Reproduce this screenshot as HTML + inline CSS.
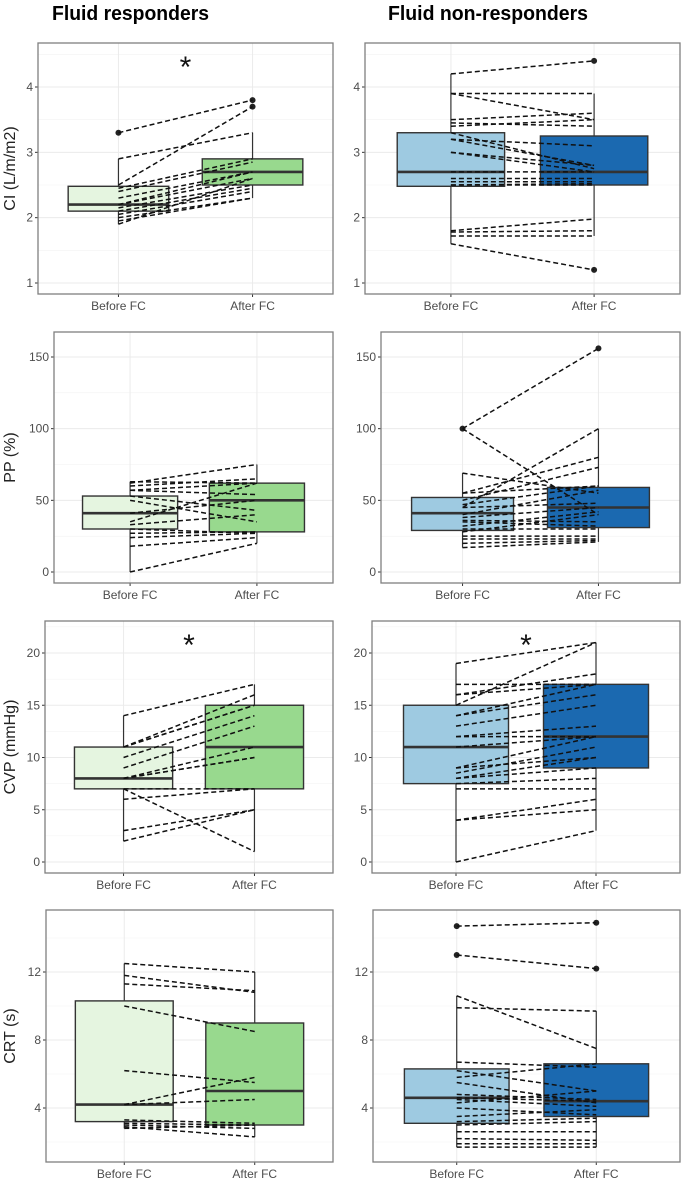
<!DOCTYPE html>
<html><head><meta charset="utf-8"><style>
body{margin:0;background:#fff}
svg{display:block;font-family:"Liberation Sans",sans-serif}
</style></head><body>
<svg id="chart" width="682" height="1181" viewBox="0 0 682 1181">
<text x="52" y="20" font-size="20" font-weight="bold" textLength="157" lengthAdjust="spacingAndGlyphs">Fluid responders</text>
<text x="388" y="20" font-size="20" font-weight="bold" textLength="200" lengthAdjust="spacingAndGlyphs">Fluid non-responders</text>
</svg>
<script>
const categories = ["Before FC","After FC"];
const yTitles = ["CI (L/m/m2)","PP (%)","CVP (mmHg)","CRT (s)"];
const ticksRow1 = [1,2,3,4];
const ticksRow2 = [0,50,100,150];
const ticksRow3 = [0,5,10,15,20];
const ticksRow4 = [4,8,12];
// boxes: [whiskerLo, q1, median, q3, whiskerHi]
const ciRespBefore = [1.9,2.1,2.2,2.48,2.9], ciRespAfter = [2.3,2.5,2.7,2.9,3.3];
const ciRespOut = [[0,3.3],[1,3.7],[1,3.8]];
const ciRespPairs = [[3.3,3.8],[2.5,3.7],[2.9,3.3],[2.45,2.9],[2.4,2.85],[2.3,2.7],[2.2,2.7],[2.2,2.6],[2.15,2.5],[2.1,2.45],[2.05,2.4],[2.0,2.3],[1.95,2.3],[1.9,2.6]];
const ciNonBefore = [1.6,2.48,2.7,3.3,4.2], ciNonAfter = [1.72,2.5,2.7,3.25,3.9];
const ciNonOut = [[1,4.4],[1,1.2]];
const ciNonPairs = [[4.2,4.4],[3.9,3.9],[3.9,3.5],[3.5,3.6],[3.45,3.4],[3.4,3.5],[3.3,2.75],[3.2,3.1],[3.0,2.8],[3.0,2.7],[2.7,2.7],[2.6,2.6],[2.55,2.55],[2.5,2.5],[2.5,2.52],[1.8,1.98],[1.78,1.8],[1.72,1.72],[1.6,1.2],[3.2,2.8]];
const ppRespBefore = [0,30,41,53,63], ppRespAfter = [20,28,50,62,75];
const ppRespOut = [];
const ppRespPairs = [[63,62],[62,75],[57,62],[57,54],[53,43],[50,35],[41,50],[35,62],[33,40],[30,27],[27,28],[24,27],[18,24],[0,20],[60,65]];
const ppNonBefore = [17,29,41,52,69], ppNonAfter = [21,31,45,59,100];
const ppNonOut = [[0,100],[1,156]];
const ppNonPairs = [[100,156],[100,40],[69,55],[45,100],[55,80],[50,73],[55,60],[40,57],[45,48],[38,45],[36,35],[35,32],[30,30],[28,40],[25,25],[23,23],[20,22],[17,21],[47,60],[32,42]];
const cvpRespBefore = [2,7,8,11,14], cvpRespAfter = [1,7,11,15,17];
const cvpRespOut = [];
const cvpRespPairs = [[14,17],[11,16],[11,15],[10,14],[9,13],[8,11],[8,10],[7,1],[7,7],[6,7],[3,5],[2,5],[11,15],[8,10]];
const cvpNonBefore = [0,7.5,11,15,19], cvpNonAfter = [3,9,12,17,21];
const cvpNonOut = [];
const cvpNonPairs = [[19,21],[17,17],[16,17],[16,18],[15,21],[14,16],[14,17],[13,15],[12,12],[12,13],[11,12],[9,10],[9,12],[8.5,11],[8,9],[8,10],[7.5,8],[7,7],[4,6],[4,5],[0,3]];
const crtRespBefore = [2.8,3.2,4.2,10.3,12.5], crtRespAfter = [2.3,3.0,5.0,9.0,12];
const crtRespOut = [];
const crtRespPairs = [[12.5,12],[11.8,10.8],[11.3,10.9],[10,8.5],[6.2,5.5],[4.2,5.8],[4.2,4.5],[3.3,3.1],[3.1,3.0],[2.9,2.3],[2.8,3.0],[3.0,2.8]];
const crtNonBefore = [1.7,3.1,4.6,6.3,10.6], crtNonAfter = [1.7,3.5,4.4,6.6,9.7];
const crtNonOut = [[0,14.7],[0,13],[1,14.9],[1,12.2]];
const crtNonPairs = [[14.7,14.9],[13,12.2],[10.6,7.5],[9.9,9.7],[6.7,6.4],[6.2,5.0],[5.5,4.3],[5.8,6.6],[4.8,4.5],[4.6,4.4],[4.5,4.1],[4.0,3.6],[3.5,3.9],[3.2,3.4],[3.0,3.2],[2.6,2.6],[2.2,2.1],[1.9,1.9],[1.7,1.7],[4.3,5.0]];

const NS="http://www.w3.org/2000/svg";
const svg=document.getElementById('chart');
function mk(tag,attrs,parent){const e=document.createElementNS(NS,tag);for(const k in attrs)e.setAttribute(k,attrs[k]);(parent||svg).appendChild(e);return e;}

const rows=[
 {top:43,bottom:294,v0:1,p0:283,v1:4,p1:87,ticks:ticksRow1,minor:0.5,lx:[38,333],rx:[365,680]},
 {top:332,bottom:583,v0:0,p0:572,v1:150,p1:357,ticks:ticksRow2,minor:25,lx:[54,333],rx:[381,680]},
 {top:621,bottom:873,v0:0,p0:862,v1:20,p1:653,ticks:ticksRow3,minor:2.5,lx:[45,333],rx:[372,680]},
 {top:910,bottom:1162,v0:4,p0:1108,v1:12,p1:972,ticks:ticksRow4,minor:2,lx:[46,333],rx:[373,680]}
];
const panels=[
 [ciRespBefore,ciRespAfter,ciRespOut,ciRespPairs,ciNonBefore,ciNonAfter,ciNonOut,ciNonPairs,[true,false]],
 [ppRespBefore,ppRespAfter,ppRespOut,ppRespPairs,ppNonBefore,ppNonAfter,ppNonOut,ppNonPairs,[false,false]],
 [cvpRespBefore,cvpRespAfter,cvpRespOut,cvpRespPairs,cvpNonBefore,cvpNonAfter,cvpNonOut,cvpNonPairs,[true,true]],
 [crtRespBefore,crtRespAfter,crtRespOut,crtRespPairs,crtNonBefore,crtNonAfter,crtNonOut,crtNonPairs,[false,false]]
];
const fills=[["#e5f5e0","#98d98e"],["#9ecae1","#1b69b0"]];

rows.forEach((r,ri)=>{
 const y=v=>r.p0+(v-r.v0)*(r.p1-r.p0)/(r.v1-r.v0);
 const vmin=r.v0+(r.bottom-r.p0)/((r.p1-r.p0)/(r.v1-r.v0));
 const vmax=r.v0+(r.top-r.p0)/((r.p1-r.p0)/(r.v1-r.v0));
 [0,1].forEach(side=>{
  const [L,R]=side?r.rx:r.lx;
  const W=R-L;
  const x=i=>L+W*(0.6+i)/2.2;
  const bw=W*0.75/2.2;
  const d=panels[ri];
  const bx=[d[side*4],d[side*4+1]], outs=d[side*4+2], pairs=d[side*4+3];
  const g=mk('g',{});
  
  
  mk('rect',{x:L,y:r.top,width:W,height:r.bottom-r.top,fill:'#fff'},g);
  for(let v=Math.ceil(vmin/r.minor)*r.minor;v<=vmax;v+=r.minor){
   mk('line',{x1:L,x2:R,y1:y(v),y2:y(v),stroke:'#f2f2f2','stroke-width':0.6},g);
  }
  r.ticks.forEach(t=>{
   mk('line',{x1:L,x2:R,y1:y(t),y2:y(t),stroke:'#ebebeb','stroke-width':1},g);
   mk('line',{x1:L-3,x2:L,y1:y(t),y2:y(t),stroke:'#333','stroke-width':1},g);
   const tl=mk('text',{x:L-5,y:y(t)+4,'text-anchor':'end','font-size':12,fill:'#4d4d4d'},g);
   tl.textContent=t;
   
   
  });
  categories.forEach((c,i)=>{
   mk('line',{x1:x(i),x2:x(i),y1:r.top,y2:r.bottom,stroke:'#ebebeb','stroke-width':1},g);
   mk('line',{x1:x(i),x2:x(i),y1:r.bottom,y2:r.bottom+3,stroke:'#333','stroke-width':1},g);
   const xl=mk('text',{x:x(i),y:r.bottom+16,'text-anchor':'middle','font-size':12,fill:'#4d4d4d'},g);
   xl.textContent=c;
   
   
  });
  bx.forEach((b,i)=>{
   const cx=x(i);
   mk('line',{x1:cx,x2:cx,y1:y(b[0]),y2:y(b[1]),stroke:'#333','stroke-width':1.2},g);
   mk('line',{x1:cx,x2:cx,y1:y(b[3]),y2:y(b[4]),stroke:'#333','stroke-width':1.2},g);
   const rc=mk('rect',{x:cx-bw/2,y:y(b[3]),width:bw,height:y(b[1])-y(b[3]),fill:fills[side][i],stroke:'#333','stroke-width':1.4},g);
   
   
   mk('line',{x1:cx-bw/2,x2:cx+bw/2,y1:y(b[2]),y2:y(b[2]),stroke:'#333','stroke-width':2.6},g);
  });
  outs.forEach(o=>{
   const c=mk('circle',{cx:x(o[0]),cy:y(o[1]),r:3,fill:'#222'},g);
   
   
  });
  pairs.forEach(p=>{
   const ln=mk('line',{x1:x(0),x2:x(1),y1:y(p[0]),y2:y(p[1]),stroke:'#111','stroke-width':1.5,'stroke-dasharray':'5,3'},g);
   
   
  });
  mk('rect',{x:L,y:r.top,width:W,height:r.bottom-r.top,fill:'none',stroke:'#7f7f7f','stroke-width':1.3},g);
  if(d[8][side]){
   const s=mk('text',{x:L+W/2,y:r.top+34,'text-anchor':'middle','font-size':30,fill:'#111'},g);
   s.textContent='*';
   
   
  }
 });
 const yc=(r.top+r.bottom)/2;
 const t=mk('text',{x:15,y:yc,'text-anchor':'middle','font-size':16,fill:'#222',transform:'rotate(-90 15 '+yc+')'});
 t.textContent=yTitles[ri];
 
 
});
</script>
</body></html>
